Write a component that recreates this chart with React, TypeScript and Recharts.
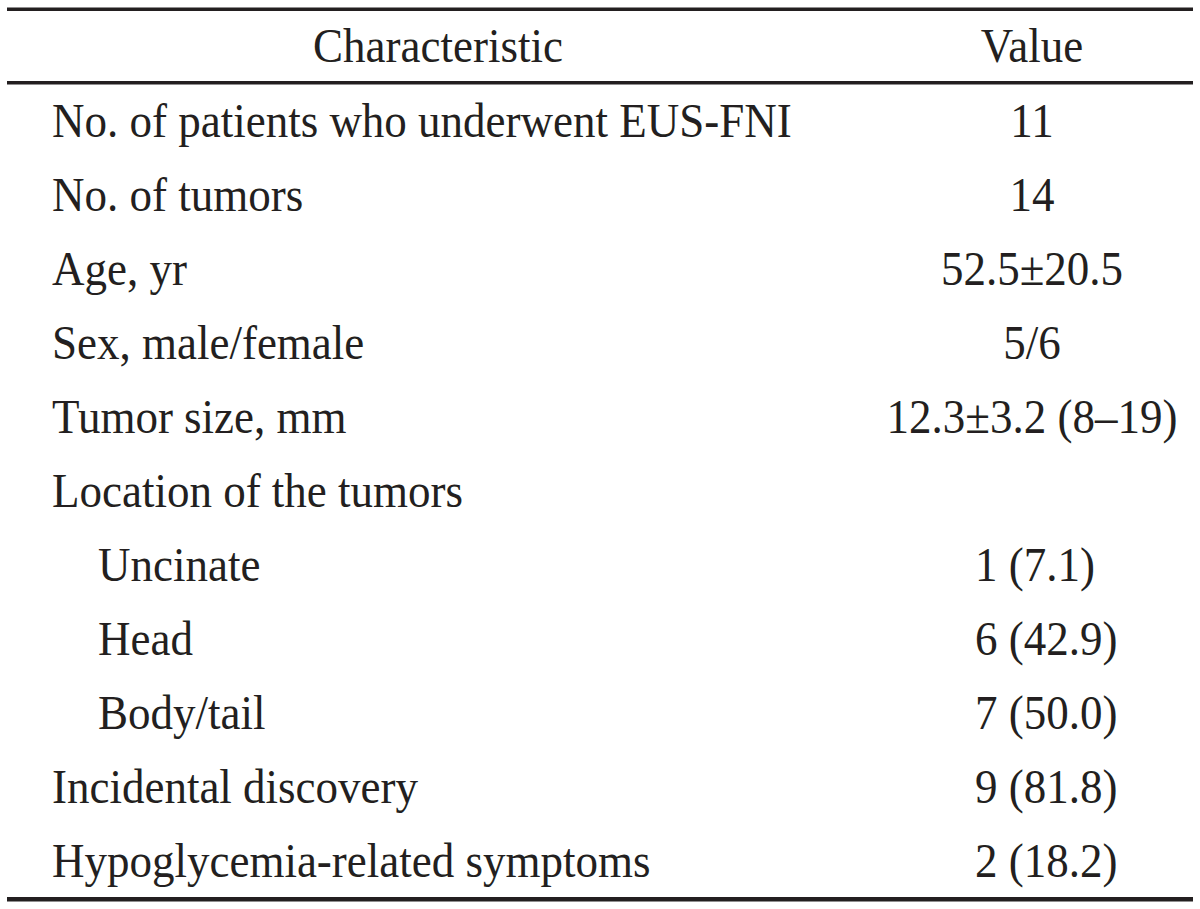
import React from 'react';
import { BarChart, Bar, XAxis, YAxis, Customized } from 'recharts';

// table contents
const headers = ['Characteristic', 'Value'];
const characteristics = [
  'No. of patients who underwent EUS-FNI',
  'No. of tumors',
  'Age, yr',
  'Sex, male/female',
  'Tumor size, mm',
  'Location of the tumors',
  'Uncinate',
  'Head',
  'Body/tail',
  'Incidental discovery',
  'Hypoglycemia-related symptoms',
];
const values = [
  '11',
  '14',
  '52.5±20.5',
  '5/6',
  '12.3±3.2 (8–19)',
  '',
  '1 (7.1)',
  '6 (42.9)',
  '7 (50.0)',
  '9 (81.8)',
  '2 (18.2)',
];
const indentLevel = [0, 0, 0, 0, 0, 0, 1, 1, 1, 0, 0];

const rows = characteristics.map((label, i) => ({
  label,
  value: values[i],
  indent: indentLevel[i],
}));

const FONT = '"Liberation Serif", "DejaVu Serif", serif';
const INK = '#231f20';
const FONT_SIZE = 45;
const STRETCH = 1.06; // the scan's type is a touch taller than Liberation Serif

const W = 1200;
const H = 909;
const LINE_LEFT = 7;
const LINE_RIGHT = 1193;

const Cell = ({ x, y, anchor, children }: any) => (
  <text
    x={x}
    y={y}
    fill={INK}
    fontFamily={FONT}
    fontSize={FONT_SIZE}
    textAnchor={anchor}
    transform={`translate(0 ${y}) scale(1 ${STRETCH}) translate(0 ${-y})`}
  >
    {children}
  </text>
);

const renderLabelTick = (props: any) => {
  const { y, payload, index } = props;
  const row = rows[index];
  const x = 52 + (row && row.indent ? 46 : 0);
  return (
    <Cell key={`l-${index}`} x={x} y={y + 16} anchor="start">
      {payload.value}
    </Cell>
  );
};

const renderValueTick = (props: any) => {
  const { y, index } = props;
  const v: string = rows[index] ? rows[index].value : '';
  // n (%) entries line up on their first digit, the rest are centred
  const isCount = v.includes(' (') && !v.includes('±');
  return (
    <Cell key={`v-${index}`} x={isCount ? 975 : 1032} y={y + 16} anchor={isCount ? 'start' : 'middle'}>
      {v}
    </Cell>
  );
};

const Rules = () => (
  <g>
    <rect x={LINE_LEFT} y={7.5} width={LINE_RIGHT - LINE_LEFT} height={3.5} fill={INK} />
    <Cell x={438} y={62} anchor="middle">
      {headers[0]}
    </Cell>
    <Cell x={1032} y={62} anchor="middle">
      {headers[1]}
    </Cell>
    <rect x={LINE_LEFT} y={81} width={LINE_RIGHT - LINE_LEFT} height={3.5} fill={INK} />
    <rect x={LINE_LEFT} y={897} width={LINE_RIGHT - LINE_LEFT} height={4.5} fill={INK} />
  </g>
);

const App = () => {
  return (
    <div style={{ position: 'absolute', left: 0, top: 0, width: W, height: H, background: '#fff' }}>
      <BarChart
        layout="vertical"
        width={W}
        height={H}
        data={rows}
        margin={{ top: 84, right: 6, bottom: 11, left: 6 }}
      >
        <XAxis type="number" hide domain={[0, 1]} />
        <YAxis
          type="category"
          dataKey="label"
          width={1}
          axisLine={false}
          tickLine={false}
          interval={0}
          tick={renderLabelTick}
        />
        <YAxis
          yAxisId="right"
          orientation="right"
          type="category"
          dataKey="label"
          width={1}
          axisLine={false}
          tickLine={false}
          interval={0}
          tick={renderValueTick}
        />
        {/* invisible series, only there so the row axes get laid out */}
        <Bar dataKey="indent" fill="none" isAnimationActive={false} />
        <Bar yAxisId="right" dataKey="indent" fill="none" isAnimationActive={false} />
        <Customized component={<Rules />} />
      </BarChart>
    </div>
  );
};

export default App;
